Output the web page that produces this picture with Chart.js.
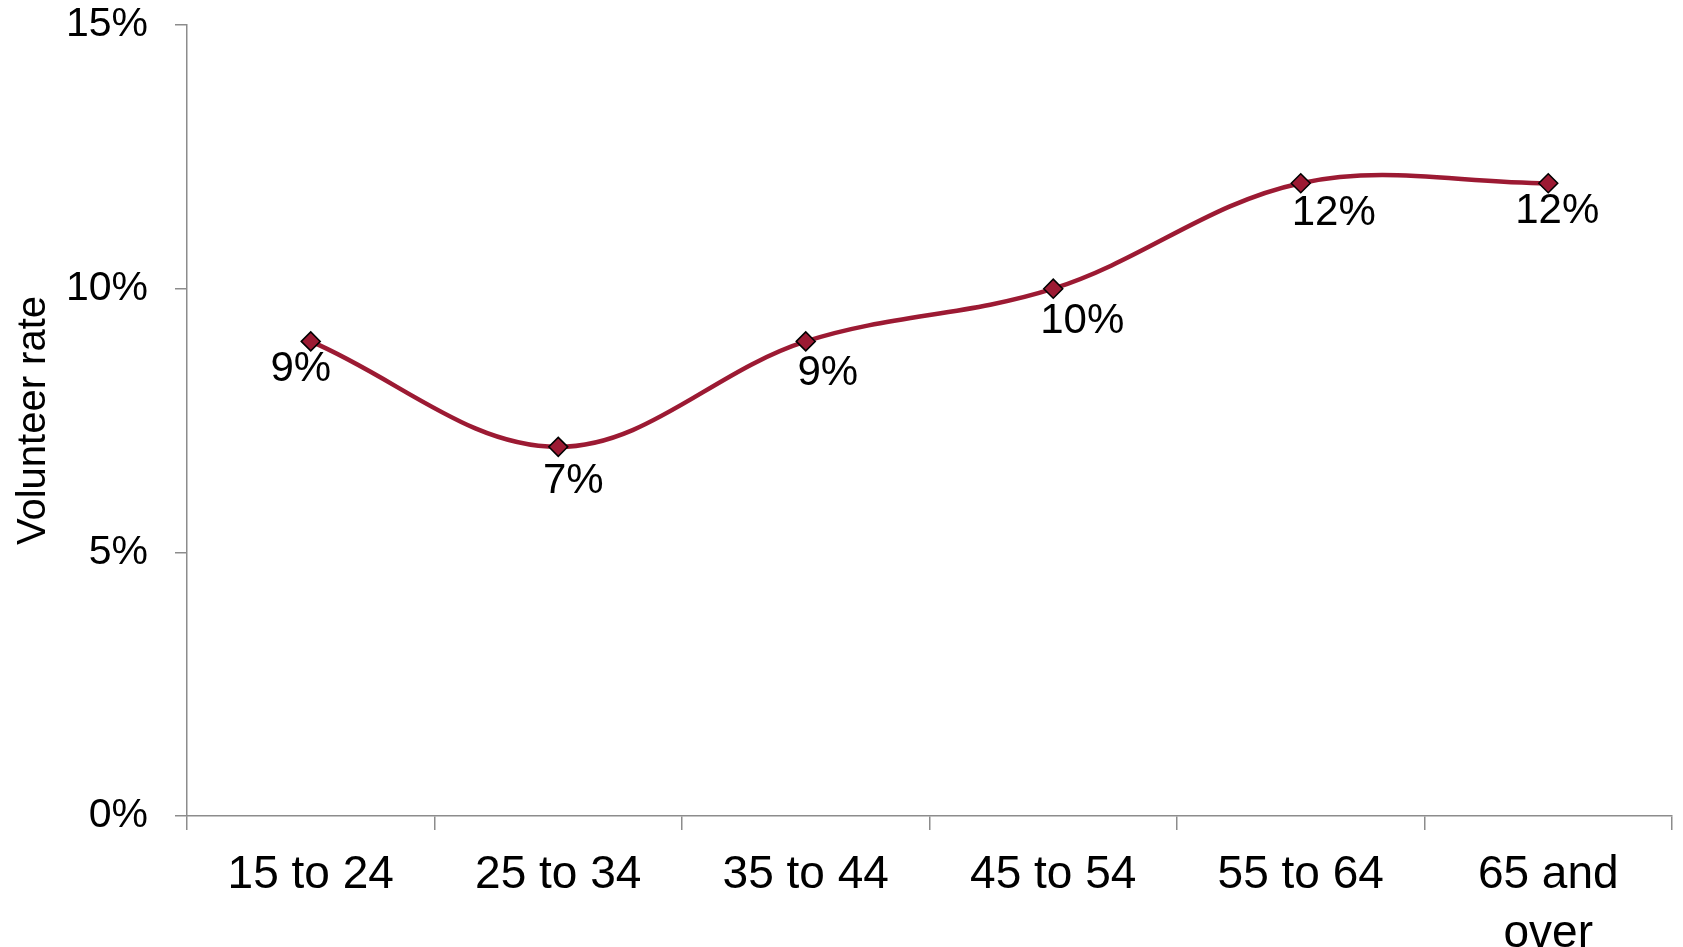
<!DOCTYPE html>
<html>
<head>
<meta charset="utf-8">
<script src="https://cdn.jsdelivr.net/npm/chart.js@4.4.0/dist/chart.umd.min.js"></script>
<style>
  body { margin: 0; background: #fff; }
  #wrap { width: 1683px; height: 947px; }
</style>
</head>
<body>
<div id="wrap"><canvas id="rateChart" width="1683" height="947"></canvas></div>
<script>
// Volunteer rate by age group
const ageGroups = ['15 to 24', '25 to 34', '35 to 44', '45 to 54', '55 to 64', ['65 and', 'over']];
const volunteerRate = [9, 7, 9, 10, 12, 12];
const rateTicks = [0, 5, 10, 15];

// nudge of each value label from its point (Excel put them by hand)
const labelNudgeX = [-10, 15, 22, 29, 33, 9];
const labelNudgeY = [28, 35, 32, 33, 30, 28];

const lineColor = '#9c1a33';
const fontFamily = '"Liberation Sans", Arial, sans-serif';

const valueLabels = {
    id: 'valueLabels',
    afterDatasetsDraw(chart) {
        const ctx = chart.ctx;
        const meta = chart.getDatasetMeta(0);
        ctx.save();
        ctx.font = '42px ' + fontFamily;
        ctx.fillStyle = '#000';
        ctx.textAlign = 'center';
        ctx.textBaseline = 'middle';
        meta.data.forEach((pt, i) => {
            ctx.fillText(volunteerRate[i] + '%', pt.x + labelNudgeX[i], pt.y + labelNudgeY[i]);
        });
        ctx.restore();
    }
};

document.addEventListener('DOMContentLoaded', function() {
    const ctx = document.getElementById('rateChart').getContext('2d');
    new Chart(ctx, {
        type: 'line',
        data: {
            labels: ageGroups,
            datasets: [{
                data: volunteerRate,
                borderColor: lineColor,
                borderWidth: 4.5,
                tension: 0.36,
                fill: false,
                clip: false,
                pointStyle: 'rectRot',
                pointRadius: 9.5,
                pointHoverRadius: 9.5,
                pointBackgroundColor: lineColor,
                pointBorderColor: '#000',
                pointBorderWidth: 1.5
            }]
        },
        options: {
            responsive: false,
            devicePixelRatio: 1,
            animation: false,
            layout: { padding: { top: 0, right: 9, left: 0, bottom: 0 } },
            plugins: {
                legend: { display: false },
                tooltip: { enabled: false }
            },
            scales: {
                x: {
                    offset: true,
                    grid: {
                        offset: true,
                        drawOnChartArea: false,
                        tickLength: 14,
                        color: '#8c8c8c',
                        lineWidth: 1.5
                    },
                    border: { color: '#8c8c8c', width: 1.5 },
                    ticks: {
                        color: '#000',
                        font: { family: fontFamily, size: 46, lineHeight: 1.3 },
                        maxRotation: 0,
                        autoSkip: false,
                        padding: 15
                    },
                    afterFit(scale) { scale.height = 131; }
                },
                y: {
                    min: 0,
                    max: 15,
                    afterBuildTicks(scale) {
                        scale.ticks = rateTicks.map(v => ({ value: v }));
                    },
                    grid: {
                        drawOnChartArea: false,
                        tickLength: 12,
                        color: '#8c8c8c',
                        lineWidth: 1.5
                    },
                    border: { color: '#8c8c8c', width: 1.5 },
                    ticks: {
                        color: '#000',
                        font: { family: fontFamily, size: 41 },
                        padding: 27,
                        callback: v => v + '%'
                    },
                    title: {
                        display: true,
                        text: 'Volunteer rate',
                        color: '#000',
                        font: { family: fontFamily, size: 40, lineHeight: 1.2 },
                        padding: { top: 10, bottom: 0 }
                    },
                    afterFit(scale) {
                        scale.width = 187;
                        scale.paddingTop = 25;
                        scale.paddingBottom = 0;
                    }
                }
            }
        },
        plugins: [valueLabels]
    });
});
</script>
</body>
</html>
